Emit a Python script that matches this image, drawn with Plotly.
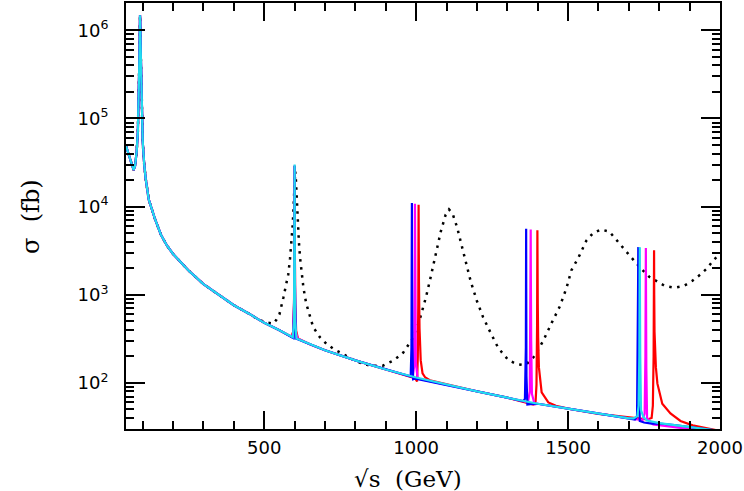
import plotly.graph_objects as go

# SM-like continuum (visible as the cyan curve everywhere)
sm_x = [45, 50, 55, 60, 65, 70, 75, 80, 84, 86, 88, 89.5, 90.5, 91.2, 92, 93, 94.5, 96, 98, 100,
        105, 110, 120, 130, 140, 160, 180, 200, 250, 300, 350, 400, 450, 500, 550, 600, 650, 700,
        800, 900, 1000, 1100, 1200, 1300, 1400, 1500, 1600, 1700, 1800, 1900, 2000]
sm_y = [4.9e4, 4.3e4, 3.7e4, 3.2e4, 2.8e4, 2.6e4, 2.9e4, 4.2e4, 7e4, 1.2e5, 2.6e5, 5.5e5, 1.05e6,
        1.48e6, 1.2e6, 7e5, 3.2e5, 1.7e5, 9e4, 5.5e4, 3e4, 2.05e4, 1.2e4, 9.3e3, 7.3e3, 4.8e3,
        3.6e3, 2.9e3, 1.9e3, 1.32e3, 990, 760, 610, 480, 395, 325, 275, 235, 180, 142, 115, 95,
        80, 68, 58, 51, 44.5, 39.5, 35, 31.5, 28.5]

# narrow resonances, one list per colour
red_x = [589, 595, 598, 599.4, 600, 600.6, 602, 605, 611,
         996, 1003, 1005.5, 1007, 1007.7, 1008, 1008.4, 1009.2, 1011, 1015, 1021, 1030, 1045, 1065,
         1385, 1393, 1396, 1398, 1398.7, 1399, 1399.4, 1400.2, 1401.5, 1404, 1413, 1435, 1460, 1480,
         1700, 1760, 1775, 1779, 1781.5, 1782.5, 1783, 1783.5, 1784.5, 1787, 1789, 1794, 1810, 1837,
         1870, 1910, 1950, 1990]
red_y = [335, 380, 800, 4000, 2.9e4, 4000, 800, 390, 318,
         113, 104, 200, 800, 3000, 1.05e4, 4000, 1400, 420, 180, 128, 115, 107, 103,
         57, 61, 95, 450, 1800, 5.4e3, 2500, 800, 330, 150, 78, 60, 55, 52.5,
         40.5, 38.5, 40, 55, 200, 800, 3.2e3, 1000, 380, 190, 150, 98, 58, 45,
         37, 33, 31, 29.5]

mag_x = [590, 595.5, 598.3, 599.5, 600, 600.5, 601.7, 604.5, 610,
         988, 993, 995, 995.7, 996, 996.3, 997, 999, 1005,
         1368, 1374, 1376, 1376.7, 1377, 1377.4, 1378.5, 1381, 1390,
         1745, 1752, 1754.5, 1755.5, 1756, 1756.4, 1757.5, 1760, 1780, 1804, 1850, 1892, 1940, 2000]
mag_y = [334, 370, 750, 4000, 2.9e4, 4000, 750, 370, 318,
         117, 150, 600, 3000, 1.08e4, 3000, 700, 170, 112,
         60.5, 80, 400, 2000, 5.5e3, 2000, 300, 75, 57,
         37.8, 45, 200, 1500, 3.4e3, 1200, 150, 40, 33.8, 33, 31.5, 30.2, 29.5, 28]

blue_x = [596, 599.4, 600, 600.6, 604,
          976, 982, 984.5, 985.5, 986, 986.5, 987.5, 990, 998,
          1352, 1358, 1361, 1361.7, 1362, 1362.3, 1363, 1366, 1376,
          1720, 1727, 1729.5, 1730.5, 1731, 1731.4, 1732.5, 1736, 1750, 1775, 1800, 1850]
blue_y = [322, 1500, 2.9e4, 1500, 318,
          119, 118, 250, 1500, 1.1e4, 1500, 280, 110, 112,
          62, 66, 250, 1500, 5.6e3, 1200, 120, 57, 57.5,
          38.5, 42, 200, 1500, 3.47e3, 1200, 150, 37, 35.5, 34.5, 34.6, 33.3]

cyan_x = [594, 598, 599.3, 600, 600.7, 602, 606,
          1715, 1728, 1732, 1734.5, 1735.5, 1736, 1736.4, 1737.5, 1740, 1748, 1760]
cyan_y = [330, 500, 2000, 3e4, 2000, 500, 318,
          39.5, 42, 55, 200, 1500, 3.47e3, 1200, 200, 49, 41, 37.5]

# broad-resonance model (dotted), coincides with the continuum below ~470 GeV
dot_x = [470, 500, 530, 540, 550, 563, 572, 579, 585, 590, 594, 597, 600, 602, 604, 607, 610, 614,
         618, 623, 629, 638, 650, 661, 683, 705, 730, 759, 790, 814, 840, 863, 890, 923, 955, 988,
         1010, 1032, 1048, 1064, 1081, 1097, 1108, 1120, 1135, 1150, 1165, 1180, 1200, 1220, 1245,
         1265, 1282, 1303, 1331, 1350, 1364, 1386, 1402, 1418, 1446, 1473, 1495, 1511, 1533, 1560,
         1582, 1609, 1636, 1658, 1680, 1702, 1742, 1767, 1818, 1849, 1881, 1908, 1936, 1958, 1980,
         2000]
dot_y = [550, 490, 470, 520, 600, 930, 1250, 1700, 2600, 4100, 6500, 1.1e4, 2.1e4, 2.5e4, 2.1e4,
         1.2e4, 7500, 4000, 2600, 1700, 1200, 800, 560, 430, 330, 277, 240, 214, 185, 170, 160,
         157, 157, 178, 215, 316, 500, 930, 1600, 2900, 5200, 8100, 9300, 8300, 5800, 3600, 2200,
         1400, 850, 560, 370, 270, 222, 182, 163, 160, 164, 195, 240, 300, 480, 740, 1200, 1900,
         2600, 4100, 5000, 5500, 5200, 4200, 3400, 2800, 1950, 1600, 1260, 1200, 1260, 1430, 1700,
         2000, 2500, 2900]


def merge(bx, by, px, py, gap=6):
    # continuum points, minus those inside a resonance window, plus the resonance points
    pts = list(zip(px, py))
    groups = []
    for x, y in pts:
        if groups and x - groups[-1][-1][0] < 150:
            groups[-1].append((x, y))
        else:
            groups.append([(x, y)])
    keep = []
    for x, y in zip(bx, by):
        inside = any(g[0][0] - gap <= x <= g[-1][0] + gap for g in groups)
        if not inside:
            keep.append((x, y))
    allp = sorted(keep + pts)
    return [p[0] for p in allp], [p[1] for p in allp]


fig = go.Figure()

# dotted model first, so the continuum lines sit on top of it
low = [(x, y) for x, y in zip(sm_x, sm_y) if x < dot_x[0]]
fig.add_scatter(x=[p[0] for p in low] + dot_x, y=[p[1] for p in low] + dot_y, mode="lines",
                line=dict(color="black", width=2.5, dash="2.5px,5.5px"),
                showlegend=False, hoverinfo="skip")

series = [
    (red_x, red_y, "#ff0000"),
    (mag_x, mag_y, "#ff00ff"),
    (blue_x, blue_y, "#0000ff"),
    (cyan_x, cyan_y, "#22dcee"),
]
for px, py, col in series:
    xx, yy = merge(sm_x, sm_y, px, py)
    fig.add_scatter(x=xx, y=yy, mode="lines", line=dict(color=col, width=2.2),
                    showlegend=False, hoverinfo="skip")

y_major = [1e2, 1e3, 1e4, 1e5, 1e6]
y_text = ["10<sup>%d</sup>" % e for e in range(2, 7)]
y_minor = [m * 10 ** e for e in range(1, 7) for m in range(2, 10)]

fig.update_xaxes(
    range=[45, 2000], tickvals=[500, 1000, 1500, 2000],
    ticks="inside", ticklen=18, tickwidth=1.5, tickcolor="black",
    showline=True, linecolor="black", linewidth=2, mirror="allticks",
    showgrid=False, zeroline=False, ticklabelstandoff=1, ticklabeloverflow="allow",
    tickfont=dict(family="DejaVu Sans", size=18, color="black"),
    minor=dict(tickmode="linear", tick0=0, dtick=100, ticks="inside", ticklen=8,
               tickwidth=1.5, tickcolor="black", showgrid=False),
)
fig.update_yaxes(
    type="log", range=[1.477, 6.31], tickvals=y_major, ticktext=y_text,
    ticks="inside", ticklen=19, tickwidth=1.5, tickcolor="black",
    showline=True, linecolor="black", linewidth=2, mirror="allticks",
    showgrid=False, zeroline=False, ticklabelstandoff=12,
    tickfont=dict(family="DejaVu Sans", size=18, color="black"),
    minor=dict(tickmode="array", tickvals=y_minor, ticks="inside", ticklen=8,
               tickwidth=1.5, tickcolor="black", showgrid=False),
)

fig.add_annotation(text="\u221as  (GeV)", xref="paper", yref="paper", x=0.475, y=-0.083,
                   xanchor="center", yanchor="top", showarrow=False,
                   font=dict(family="DejaVu Serif", size=23, color="black"))
fig.add_annotation(text="\u03c3  (fb)", xref="paper", yref="paper", x=-0.16, y=0.5,
                   xanchor="center", yanchor="middle", textangle=-90, showarrow=False,
                   font=dict(family="DejaVu Serif", size=24, color="black"))

fig.update_layout(
    width=744, height=491,
    margin=dict(l=126, r=21, t=1, b=62),
    paper_bgcolor="white", plot_bgcolor="white",
)

fig.write_html("out.html", config={"displayModeBar": False},
               post_script="document.body.style.margin='0';")
